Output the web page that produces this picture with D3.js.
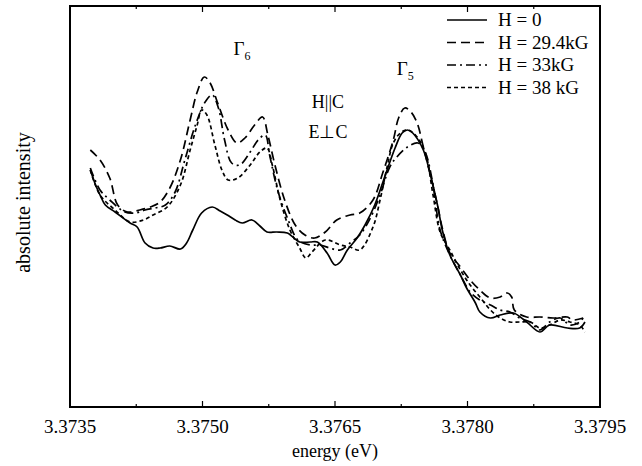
<!DOCTYPE html>
<html>
<head>
<meta charset="utf-8">
<script src="https://cdn.jsdelivr.net/npm/d3@7"></script>
<style>
  body { margin: 0; background: #fff; }
  svg { font-family: "Liberation Serif", "Times New Roman", serif; }
</style>
</head>
<body>
<svg id="chart" width="642" height="466"></svg>
<script>
// spectra (energy in eV, intensity in arbitrary units)
const h0Energy = [3.37373, 3.37379, 3.37384, 3.37390, 3.37401, 3.37418, 3.37426, 3.37435, 3.37444, 3.37452, 3.37463, 3.37475, 3.37482, 3.37489, 3.37499, 3.37511, 3.37520, 3.37528, 3.37537, 3.37545, 3.37556, 3.37565, 3.37573, 3.37584, 3.37596, 3.37610, 3.37622, 3.37630, 3.37641, 3.37650, 3.37656, 3.37664, 3.37675, 3.37684, 3.37695, 3.37707, 3.37718, 3.37726, 3.37732, 3.37738, 3.37750, 3.37758, 3.37766, 3.37772, 3.37780, 3.37792, 3.37799, 3.37809, 3.37814, 3.37826, 3.37837, 3.37852, 3.37867, 3.37882, 3.37893, 3.37913, 3.37927, 3.37933]
const h0Intensity = [237, 222, 212, 202, 195, 184, 180, 164, 159, 159, 161, 158, 164, 177, 194, 200, 196, 192, 187, 184, 187, 181, 175, 175, 174, 165, 165, 165, 154, 142, 145, 157, 169, 182, 202, 232, 259, 274, 277, 274, 257, 232, 202, 175, 152, 132, 119, 104, 95, 89, 92, 94, 85, 75, 82, 79, 79, 85]

const h294Energy = [3.37373, 3.37384, 3.37395, 3.37404, 3.37415, 3.37429, 3.37441, 3.37452, 3.37463, 3.37475, 3.37486, 3.37494, 3.37502, 3.37508, 3.37518, 3.37529, 3.37539, 3.37548, 3.37559, 3.37568, 3.37574, 3.37582, 3.37593, 3.37605, 3.37616, 3.37627, 3.37639, 3.37652, 3.37667, 3.37678, 3.37693, 3.37704, 3.37716, 3.37722, 3.37729, 3.37736, 3.37743, 3.37750, 3.37758, 3.37766, 3.37772, 3.37780, 3.37792, 3.37803, 3.37814, 3.37826, 3.37837, 3.37845, 3.37850, 3.37853, 3.37867, 3.37882, 3.37897, 3.37913, 3.37919, 3.37931]
const h294Intensity = [257, 247, 229, 202, 195, 197, 200, 205, 219, 247, 287, 315, 330, 325, 302, 277, 264, 269, 282, 290, 272, 242, 207, 182, 172, 169, 175, 187, 192, 194, 207, 234, 267, 289, 299, 295, 284, 260, 232, 202, 177, 154, 140, 127, 117, 109, 110, 114, 110, 97, 90, 90, 89, 90, 87, 89]

const h33Energy = [3.37373, 3.37384, 3.37395, 3.37412, 3.37424, 3.37435, 3.37446, 3.37458, 3.37469, 3.37480, 3.37492, 3.37503, 3.37511, 3.37518, 3.37525, 3.37533, 3.37542, 3.37554, 3.37563, 3.37571, 3.37576, 3.37585, 3.37597, 3.37608, 3.37622, 3.37633, 3.37644, 3.37656, 3.37667, 3.37678, 3.37690, 3.37701, 3.37712, 3.37720, 3.37732, 3.37744, 3.37752, 3.37760, 3.37769, 3.37780, 3.37792, 3.37803, 3.37814, 3.37826, 3.37837, 3.37848, 3.37859, 3.37871, 3.37882, 3.37893, 3.37905, 3.37916, 3.37927, 3.37933]
const h33Intensity = [239, 217, 207, 195, 194, 197, 199, 202, 215, 247, 282, 305, 312, 299, 267, 244, 242, 255, 267, 272, 252, 217, 187, 167, 162, 162, 159, 157, 164, 172, 189, 212, 240, 250, 260, 264, 255, 227, 177, 152, 132, 115, 107, 102, 97, 95, 89, 85, 77, 85, 89, 82, 85, 92]

const h38Energy = [3.37373, 3.37384, 3.37401, 3.37418, 3.37433, 3.37444, 3.37460, 3.37475, 3.37486, 3.37494, 3.37499, 3.37505, 3.37514, 3.37522, 3.37529, 3.37540, 3.37554, 3.37565, 3.37573, 3.37579, 3.37588, 3.37599, 3.37610, 3.37617, 3.37624, 3.37639, 3.37656, 3.37667, 3.37678, 3.37693, 3.37701, 3.37709, 3.37716, 3.37724, 3.37732, 3.37741, 3.37752, 3.37761, 3.37769, 3.37780, 3.37792, 3.37803, 3.37814, 3.37826, 3.37837, 3.37848, 3.37859, 3.37871, 3.37882, 3.37893, 3.37905, 3.37916, 3.37927, 3.37933]
const h38Intensity = [237, 212, 197, 185, 187, 192, 200, 222, 257, 282, 297, 292, 262, 237, 227, 229, 242, 255, 259, 242, 207, 177, 159, 149, 155, 167, 162, 160, 157, 180, 207, 240, 264, 274, 277, 272, 255, 212, 175, 157, 137, 122, 110, 97, 89, 85, 85, 85, 79, 82, 87, 85, 82, 75]

const seriesLabels = ["H = 0", "H = 29.4kG", "H = 33kG", "H = 38 kG"]
const xTicks = [3.3735, 3.3750, 3.3765, 3.3780, 3.3795]

const series = [
  { name: seriesLabels[0], x: h0Energy, y: h0Intensity, dash: null },
  { name: seriesLabels[1], x: h294Energy, y: h294Intensity, dash: "9,5" },
  { name: seriesLabels[2], x: h33Energy, y: h33Intensity, dash: "9,4,2,4" },
  { name: seriesLabels[3], x: h38Energy, y: h38Intensity, dash: "4,3" }
]

const margin = { top: 6, right: 42, bottom: 59, left: 70 }
const width = 642 - margin.left - margin.right
const height = 466 - margin.top - margin.bottom

const svg = d3.select("#chart")
const g = svg.append("g").attr("transform", `translate(${margin.left},${margin.top})`)

const x = d3.scaleLinear().domain([3.3735, 3.3795]).range([0, width])
const y = d3.scaleLinear().domain([0, 401]).range([height, 0])

// minor ticks halfway between the labelled ones
const minor = d3.range(3.37425, 3.3795, 0.0015)

// frame
g.append("rect")
  .attr("width", width).attr("height", height)
  .attr("fill", "none").attr("stroke", "#000").attr("stroke-width", 2)

// ticks on bottom and top, pointing inwards
function ticks(vals, len) {
  vals.forEach(v => {
    g.append("line").attr("x1", x(v)).attr("x2", x(v))
      .attr("y1", height).attr("y2", height - len)
      .attr("stroke", "#000").attr("stroke-width", 1.2)
    g.append("line").attr("x1", x(v)).attr("x2", x(v))
      .attr("y1", 0).attr("y2", len)
      .attr("stroke", "#000").attr("stroke-width", 1.2)
  })
}
ticks(xTicks.slice(1, -1), 6)
ticks(minor, 3)

g.selectAll(".xlab")
  .data(xTicks)
  .enter()
  .append("text")
  .attr("x", d => x(d))
  .attr("y", height + 26)
  .attr("text-anchor", "middle")
  .style("font-size", "19px")
  .text(d => d.toFixed(4))

g.append("text")
  .attr("x", width / 2)
  .attr("y", height + 50)
  .attr("text-anchor", "middle")
  .style("font-size", "18px")
  .text("energy (eV)")

svg.append("text")
  .attr("transform", `translate(30,${margin.top + height / 2 - 4}) rotate(-90)`)
  .attr("text-anchor", "middle")
  .style("font-size", "20px")
  .text("absolute intensity")

// curves
const line = d3.line()
  .x(d => x(d[0]))
  .y(d => y(d[1]))
  .curve(d3.curveCatmullRom.alpha(0.5))

series.forEach(s => {
  g.append("path")
    .datum(s.x.map((e, i) => [e, s.y[i]]))
    .attr("d", line)
    .attr("fill", "none")
    .attr("stroke", "#000")
    .attr("stroke-width", 1.7)
    .attr("stroke-dasharray", s.dash)
})

// legend
const lg = g.append("g").attr("transform", "translate(377,14)")
series.forEach((s, i) => {
  lg.append("line")
    .attr("x1", 0).attr("x2", 40)
    .attr("y1", i * 22.5).attr("y2", i * 22.5)
    .attr("stroke", "#000").attr("stroke-width", 1.7)
    .attr("stroke-dasharray", s.dash)
  lg.append("text")
    .attr("x", 51).attr("y", i * 22.5 + 6)
    .style("font-size", "19px")
    .text(s.name)
})

// annotations
function gamma(px, py, sub) {
  const t = g.append("text").attr("x", px).attr("y", py).style("font-size", "19px")
  t.append("tspan").text("Γ")
  t.append("tspan").attr("dy", 5).style("font-size", "12px").text(sub)
}
gamma(x(3.37535), 49, "6")
gamma(x(3.37720), 69, "5")

g.append("text").attr("x", x(3.37642)).attr("y", 102)
  .attr("text-anchor", "middle").style("font-size", "18px").text("H||C")
g.append("text").attr("x", x(3.37642)).attr("y", 132)
  .attr("text-anchor", "middle").style("font-size", "18px").text("E⊥C")
</script>
</body>
</html>
